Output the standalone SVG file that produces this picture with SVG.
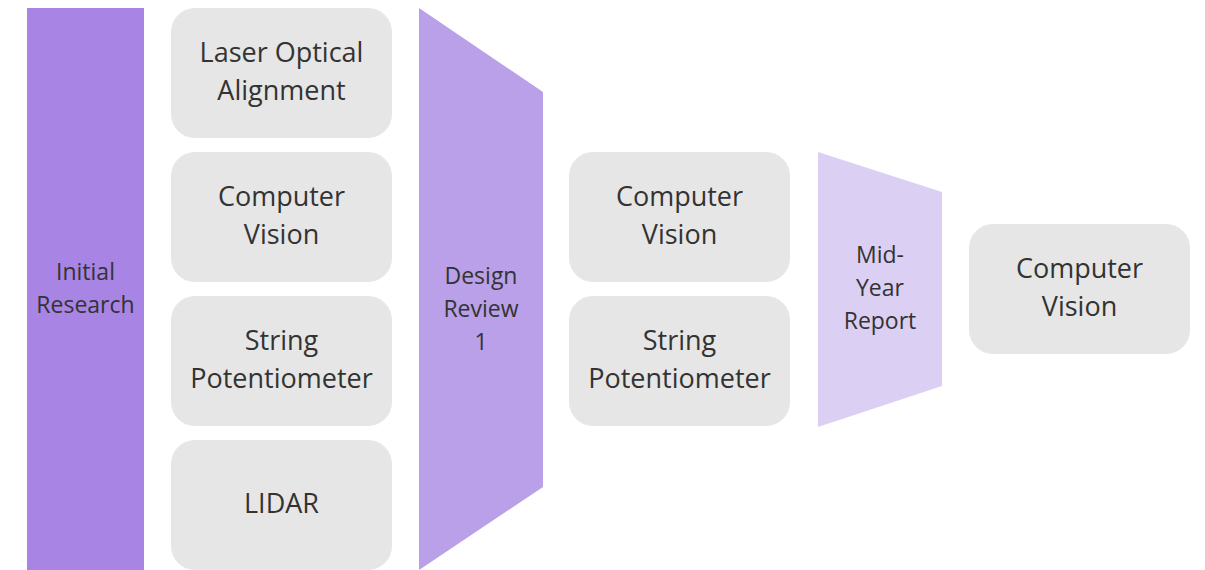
<svg xmlns="http://www.w3.org/2000/svg" width="1205" height="570" viewBox="0 0 1205 570">
  <style>
    .box { fill: #e6e6e6; }
    .lbl { font-family: "Open Sans", "Liberation Sans", sans-serif; fill: #333333; text-anchor: middle; }
    .big { font-size: 27px; }
    .small { font-size: 23px; }
  </style>
  <rect width="1205" height="570" fill="#ffffff"/>

  <g id="initial-research">
    <rect x="27" y="8" width="117" height="562" fill="#a884e4"/>
    <text class="lbl small" x="85.5" y="280">Initial</text>
    <text class="lbl small" x="85.5" y="313">Research</text>
  </g>

  <g id="laser-optical">
    <rect class="box" x="171" y="8" width="221" height="130" rx="24"/>
    <text class="lbl big" x="281.5" y="62">Laser Optical</text>
    <text class="lbl big" x="281.5" y="100">Alignment</text>
  </g>
  <g id="computer-vision-1">
    <rect class="box" x="171" y="152" width="221" height="130" rx="24"/>
    <text class="lbl big" x="281.5" y="206">Computer</text>
    <text class="lbl big" x="281.5" y="244">Vision</text>
  </g>
  <g id="string-pot-1">
    <rect class="box" x="171" y="296" width="221" height="130" rx="24"/>
    <text class="lbl big" x="281.5" y="350">String</text>
    <text class="lbl big" x="281.5" y="388">Potentiometer</text>
  </g>
  <g id="lidar">
    <rect class="box" x="171" y="440" width="221" height="130" rx="24"/>
    <text class="lbl big" x="281.5" y="513">LIDAR</text>
  </g>

  <g id="design-review">
    <polygon points="419,8 543,92 543,487 419,570" fill="#b9a0e8"/>
    <text class="lbl small" x="481" y="284">Design</text>
    <text class="lbl small" x="481" y="317">Review</text>
    <text class="lbl small" x="481" y="350">1</text>
  </g>

  <g id="computer-vision-2">
    <rect class="box" x="569" y="152" width="221" height="130" rx="24"/>
    <text class="lbl big" x="679.5" y="206">Computer</text>
    <text class="lbl big" x="679.5" y="244">Vision</text>
  </g>
  <g id="string-pot-2">
    <rect class="box" x="569" y="296" width="221" height="130" rx="24"/>
    <text class="lbl big" x="679.5" y="350">String</text>
    <text class="lbl big" x="679.5" y="388">Potentiometer</text>
  </g>

  <g id="mid-year-report">
    <polygon points="818,152 942,192 942,386 818,427" fill="#dccff4"/>
    <text class="lbl small" x="880" y="263">Mid-</text>
    <text class="lbl small" x="880" y="296">Year</text>
    <text class="lbl small" x="880" y="329">Report</text>
  </g>

  <g id="computer-vision-3">
    <rect class="box" x="969" y="224" width="221" height="130" rx="24"/>
    <text class="lbl big" x="1079.5" y="278">Computer</text>
    <text class="lbl big" x="1079.5" y="316">Vision</text>
  </g>

  <g id="connectors"></g>
</svg>
